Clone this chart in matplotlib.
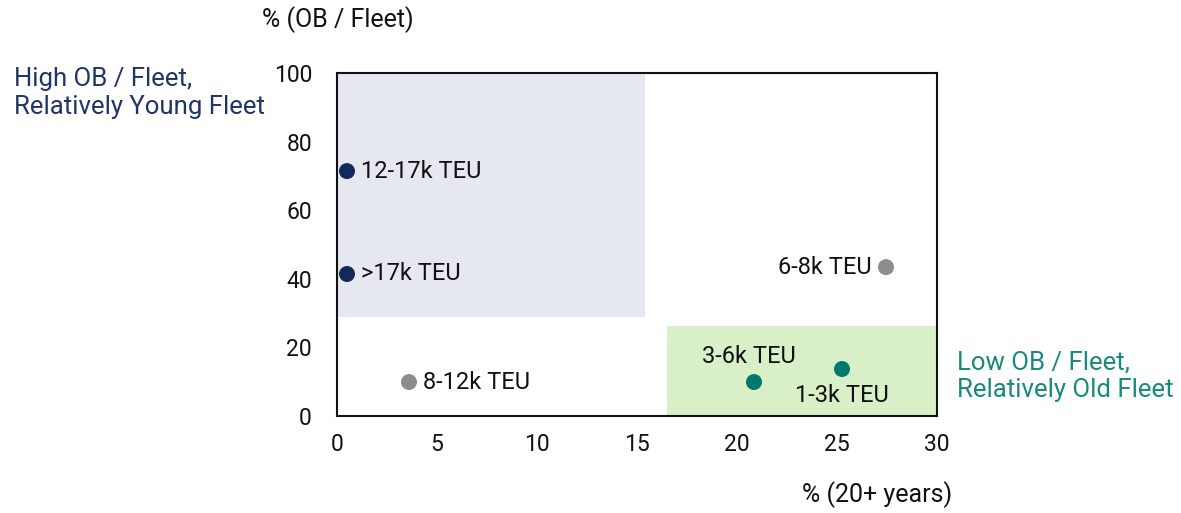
import matplotlib.pyplot as plt
from matplotlib.patches import Rectangle

plt.rcParams['font.family'] = ['Roboto', 'DejaVu Sans']

# data
labels = ['12-17k TEU', '>17k TEU', '6-8k TEU', '8-12k TEU', '3-6k TEU', '1-3k TEU']
old_pct = [0.5, 0.5, 27.45, 3.6, 20.85, 25.25]
ob_pct = [71.4, 41.4, 43.4, 9.9, 9.9, 13.7]
colors = ['#13295a', '#13295a', '#8c8c8c', '#8c8c8c', '#00796b', '#00796b']

navy = '#1f3566'
teal = '#178a7c'

fig = plt.figure(figsize=(11.81, 5.13), dpi=100)
ax = fig.add_axes([337 / 1181, 1 - 416 / 513, 600 / 1181, 343 / 513])

ax.add_patch(Rectangle((0, 28.9), 15.4, 71.1, facecolor='#e5e8f0', edgecolor='none', zorder=0))
ax.add_patch(Rectangle((16.5, 0), 13.5, 26.2, facecolor='#d9efc8', edgecolor='none', zorder=0))

ax.scatter(old_pct, ob_pct, s=110, c=colors, zorder=3, clip_on=False)

# label placement (offsets in points)
offsets = {
    '12-17k TEU': (10, 0, 'left', 'center'),
    '>17k TEU': (10, 0, 'left', 'center'),
    '6-8k TEU': (-10, 0, 'right', 'center'),
    '8-12k TEU': (10, 0, 'left', 'center'),
    '3-6k TEU': (-4, 10, 'center', 'bottom'),
    '1-3k TEU': (0, -11, 'center', 'top'),
}
for lab, x, y in zip(labels, old_pct, ob_pct):
    dx, dy, ha, va = offsets[lab]
    ax.annotate(lab, (x, y), xytext=(dx, dy), textcoords='offset points',
                ha=ha, va=va, fontsize=17, color='#111111')

ax.set_xlim(0, 30)
ax.set_ylim(0, 100)
ax.set_xticks([0, 5, 10, 15, 20, 25, 30])
ax.set_yticks([0, 20, 40, 60, 80, 100])
ax.tick_params(length=0, labelsize=16.5, colors='#111111')
ax.tick_params(axis='y', pad=18)
ax.tick_params(axis='x', pad=12)
for s in ax.spines.values():
    s.set_linewidth(1.5)
    s.set_color('#111111')

fig.text(338 / 1181, 1 - 20 / 513, '% (OB / Fleet)', ha='center', va='center', fontsize=18, color='#111111')
fig.text(877 / 1181, 1 - 495 / 513, '% (20+ years)', ha='center', va='center', fontsize=18, color='#111111')
fig.text(14 / 1181, 1 - 93 / 513, 'High OB / Fleet,\nRelatively Young Fleet', ha='left', va='center',
         fontsize=18.5, color=navy, linespacing=1.2)
fig.text(957 / 1181, 1 - 376 / 513, 'Low OB / Fleet,\nRelatively Old Fleet', ha='left', va='center',
         fontsize=18.5, color=teal, linespacing=1.2)

fig.savefig('out.png', dpi=100)
